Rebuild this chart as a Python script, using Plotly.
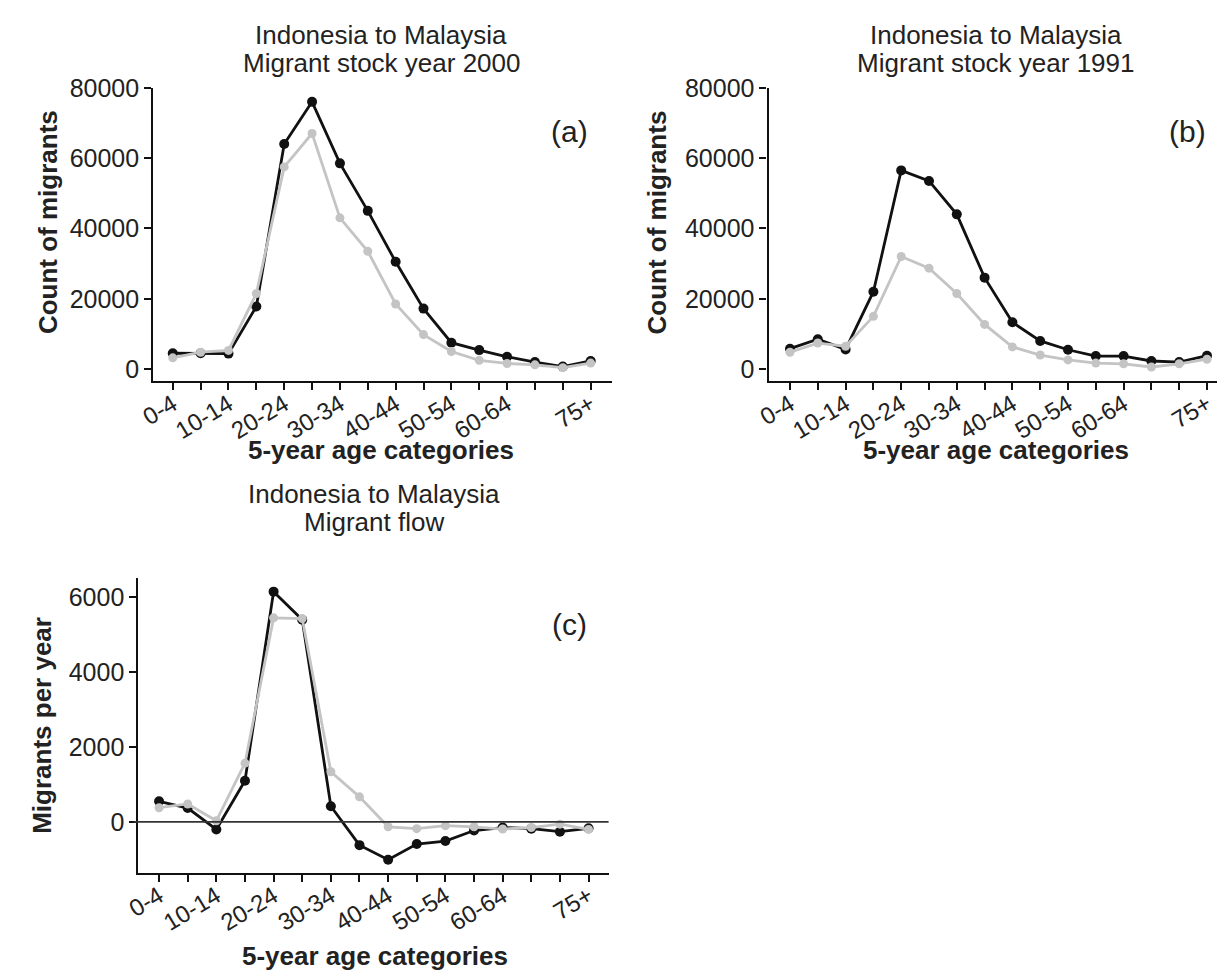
import plotly.graph_objects as go

categories = ["0-4", "5-9", "10-14", "15-19", "20-24", "25-29", "30-34", "35-39",
              "40-44", "45-49", "50-54", "55-59", "60-64", "65-69", "70-74", "75+"]
labeled = ["0-4", "10-14", "20-24", "30-34", "40-44", "50-54", "60-64", "75+"]

# Panel (a): migrant stock 2000
stock2000_black = [4500, 4500, 4400, 17800, 64000, 76000, 58500, 45000,
                   30500, 17200, 7500, 5400, 3500, 2000, 700, 2300]
stock2000_gray = [3200, 4800, 5300, 21500, 57500, 67000, 43000, 33500,
                  18500, 9800, 5000, 2500, 1600, 1200, 400, 1700]

# Panel (b): migrant stock 1991
stock1991_black = [5800, 8500, 5600, 22000, 56500, 53500, 44000, 26000,
                   13300, 8000, 5500, 3700, 3700, 2300, 2000, 3800]
stock1991_gray = [4800, 7400, 6500, 15000, 32000, 28700, 21500, 12700,
                  6300, 4000, 2600, 1700, 1500, 600, 1500, 2800]

# Panel (c): migrant flow
flow_black = [550, 370, -200, 1100, 6150, 5400, 420, -620,
              -1010, -590, -510, -230, -150, -180, -260, -170]
flow_gray = [380, 480, 30, 1570, 5450, 5430, 1340, 670,
             -130, -180, -100, -130, -190, -150, -60, -200]

stock_ticks = [0, 20000, 40000, 60000, 80000]
flow_ticks = [0, 2000, 4000, 6000]

W, H = 1217, 977
FONT = "Liberation Sans, Arial, sans-serif"
BLACK = "#111111"
GRAY = "#c4c4c4"
TXT = "#222222"

xidx = list(range(len(categories)))
ticktext = [c if c in labeled else "" for c in categories]

fig = go.Figure()


def add_pair(black, gray, xa, ya):
    fig.add_trace(go.Scatter(x=xidx, y=black, mode="lines+markers",
                             line=dict(color=BLACK, width=2.8),
                             marker=dict(color=BLACK, size=10),
                             xaxis=xa, yaxis=ya, showlegend=False))
    fig.add_trace(go.Scatter(x=xidx, y=gray, mode="lines+markers",
                             line=dict(color=GRAY, width=2.8),
                             marker=dict(color=GRAY, size=9),
                             xaxis=xa, yaxis=ya, showlegend=False))


add_pair(stock2000_black, stock2000_gray, "x", "y")
add_pair(stock1991_black, stock1991_gray, "x2", "y2")
add_pair(flow_black, flow_gray, "x3", "y3")


def px_x(p):
    return p / W


def px_y(p):
    return 1 - p / H


xcommon = dict(tickmode="array", tickvals=xidx, ticktext=ticktext,
               tickangle=-31, ticks="outside", ticklen=7, tickwidth=1.5,
               tickcolor=BLACK, showline=True, linecolor=BLACK, linewidth=2.2,
               showgrid=False, zeroline=False, ticklabelstandoff=-9,
               tickfont=dict(family=FONT, size=24, color=TXT))
ycommon = dict(tickmode="array", ticks="outside", ticklen=7, tickwidth=1.5,
               tickcolor=BLACK, showline=True, linecolor=BLACK, linewidth=2.2,
               showgrid=False, zeroline=False, tickformat="d",
               tickfont=dict(family=FONT, size=25, color=TXT))

fig.update_layout(
    width=W, height=H, margin=dict(l=0, r=0, t=0, b=0),
    paper_bgcolor="white", plot_bgcolor="white",
    xaxis=dict(domain=[px_x(140), px_x(604)], range=[-0.7, 15.75], anchor="y", **xcommon),
    yaxis=dict(domain=[px_y(373), px_y(75)], range=[-3360, 80000], anchor="x",
               tickvals=stock_ticks, **ycommon),
    xaxis2=dict(domain=[px_x(763), 1.0], range=[-0.77, 15.36], anchor="y2", **xcommon),
    yaxis2=dict(domain=[px_y(373), px_y(75)], range=[-3360, 80000], anchor="x2",
                tickvals=stock_ticks, **ycommon),
    xaxis3=dict(domain=[px_x(125), px_x(601)], range=[-0.72, 15.7], anchor="y3", **xcommon),
    yaxis3=dict(domain=[px_y(873), px_y(573)], range=[-1356, 6525], anchor="x3",
                tickvals=flow_ticks, **ycommon),
)

# zero line in panel (c)
fig.add_shape(type="line", xref="x3 domain", yref="y3", x0=-0.01, x1=1, y0=0, y1=0,
              line=dict(color="#333333", width=1.8))


def ann(text, x, y, size=26, bold=False, angle=0):
    if bold:
        text = "<b>" + text + "</b>"
    fig.add_annotation(text=text, x=px_x(x), y=px_y(y), xref="paper", yref="paper",
                       showarrow=False, textangle=angle,
                       font=dict(family=FONT, size=size, color=TXT),
                       xanchor="center", yanchor="middle")


# titles
ann("Indonesia to Malaysia", 371, 21, size=26)
ann("Migrant stock year 2000", 371, 50, size=26)
ann("Indonesia to Malaysia", 993, 21, size=26)
ann("Migrant stock year 1991", 993, 50, size=26)
ann("Indonesia to Malaysia", 363, 488, size=26)
ann("Migrant flow", 363, 516, size=26)

# panel letters
ann("(a)", 561, 119, size=30)
ann("(b)", 1187, 119, size=30)
ann("(c)", 561, 621, size=30)

# axis titles
ann("Count of migrants", 33, 212, size=26, bold=True, angle=-90)
ann("Count of migrants", 650, 212, size=26, bold=True, angle=-90)
ann("Migrants per year", 28, 723, size=26, bold=True, angle=-90)
ann("5-year age categories", 371, 443, size=26, bold=True)
ann("5-year age categories", 993, 443, size=26, bold=True)
ann("5-year age categories", 364, 958, size=26, bold=True)

fig.write_html("out.html", config={"displayModeBar": False},
               post_script="document.body.style.margin='0';")
